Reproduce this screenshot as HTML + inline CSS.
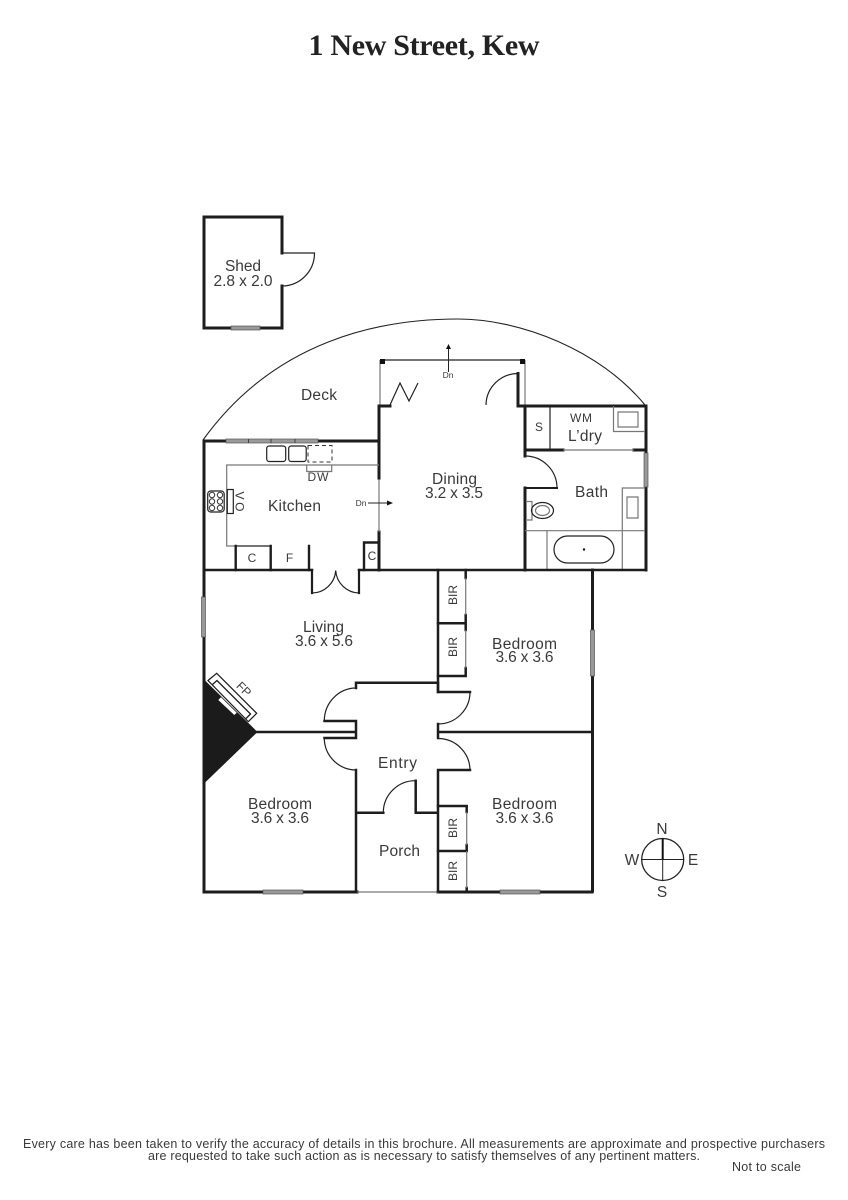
<!DOCTYPE html>
<html><head><meta charset="utf-8"><style>
html,body{margin:0;padding:0;background:#fff}
svg{display:block}
text{font-family:"Liberation Sans",sans-serif;fill:#3a3a3a;text-anchor:middle}
.w{stroke:#1d1d1d;stroke-width:3;fill:none;stroke-linecap:square}
.t{stroke:#222;stroke-width:1.2;fill:none}
.g{stroke:#777;stroke-width:1.2;fill:none}
.win{fill:#999;stroke:#555;stroke-width:.7}
.m{font-size:15.5px}
.s{font-size:12px}
.x{font-size:8.5px}
</style></head><body>
<svg width="848" height="1200" viewBox="0 0 848 1200" xmlns="http://www.w3.org/2000/svg">
<text x="424" y="55" textLength="231" style="font-family:'Liberation Serif',serif;font-weight:bold;font-size:30px;fill:#222">1 New Street, Kew</text>

<!-- Shed -->
<path class="w" d="M282 253V217H204V328H282V286"/>
<path class="t" d="M282 253H314.5A32.5 33 0 0 1 282 286"/>
<rect class="win" x="231" y="326" width="29" height="4"/>

<!-- Deck arc -->
<path d="M203 440C275 340 380 319 458 319C520 319 600 350 645 405" fill="none" stroke="#222" stroke-width="1.1"/>

<!-- Dining outline -->
<path class="t" d="M380 360H523"/>
<path class="g" d="M380 360V405M525 360V405"/>
<rect x="380" y="359" width="5" height="5" fill="#111"/>
<rect x="520" y="359" width="5" height="5" fill="#111"/>
<path class="w" d="M390 406H379V478M379 532V570"/>
<path class="g" d="M379 478V532"/>
<path class="t" d="M390 405L400 383L409 401L418 383"/>
<path class="w" d="M525 406H518V373.500"/>
<path class="t" d="M518 373.500A32 32 0 0 0 486 405"/>
<path d="M448.500 372V345" stroke="#222" stroke-width="1"/>
<path d="M448.500 344L446 349H451Z" fill="#111"/>
<text x="448" y="378" class="x">Dn</text>

<!-- Laundry / Bath -->
<path class="w" d="M525 456V406H646V570M525 488V570M525 450H563M634 450H646"/>
<path class="g" d="M563 450H634"/>
<path class="t" d="M550 406V450"/>
<path class="g" d="M613.500 406V431.500H645M618 412H638V427H618Z"/>
<path class="t" d="M525 456A32 32 0 0 1 557 488"/>
<path class="w" style="stroke-width:2" d="M525 488H557"/>
<rect class="win" x="644" y="453" width="4" height="34"/>
<path class="g" d="M527 501.500H532V520H527"/>
<ellipse cx="542.500" cy="510.500" rx="11" ry="8" class="t"/>
<ellipse cx="542.500" cy="510.500" rx="7" ry="5" class="g"/>
<path class="g" d="M525 530.700H645M547 531V570M622.300 570V488H645M627 497H638V518H627Z"/>
<rect x="554" y="536" width="60" height="27" rx="13.500" class="t"/>
<circle cx="584" cy="549.500" r="1.200" fill="#111"/>

<!-- Kitchen -->
<path class="w" d="M204 441H226M318 441H379V406"/>
<path class="w" d="M379 441V478"/>
<rect class="win" x="226" y="439" width="92" height="4"/>
<path d="M248.500 439V443M271 439V443M295 439V443" stroke="#444"/>
<path class="g" d="M379 465H226.700V546H236"/>
<path class="t" d="M236 546H271"/>
<rect x="266.700" y="446" width="19" height="15.500" rx="2.500" class="t"/>
<rect x="288.700" y="446" width="17.500" height="15.500" rx="2.500" class="t"/>
<rect x="308" y="445.500" width="24" height="16.500" fill="none" stroke="#333" stroke-width="1" stroke-dasharray="4 3"/>
<path class="g" d="M306.700 465V471.500H331.700V465"/>
<rect x="207.700" y="491" width="16.500" height="21" rx="3" class="t"/>
<g fill="none" stroke="#333" stroke-width="1">
<circle cx="212" cy="495" r="2.700"/><circle cx="220" cy="495" r="2.700"/>
<circle cx="212" cy="501.500" r="2.700"/><circle cx="220" cy="501.500" r="2.700"/>
<circle cx="212" cy="508" r="2.700"/><circle cx="220" cy="508" r="2.700"/>
</g>
<rect x="227.300" y="489.500" width="6" height="24" class="t" fill="#fff"/>
<text class="s" transform="translate(235.500 501.500) rotate(90)" textLength="20">VO</text>
<path class="w" style="stroke-width:2.400" d="M235.700 546V570M270.700 546V570M309 546V570M364 570V542.500H378"/>
<path d="M368 503H388" stroke="#222" stroke-width="1"/>
<path d="M393 503L387 500.500V505.500Z" fill="#111"/>
<text x="361" y="506" class="x">Dn</text>

<!-- French doors -->
<path class="w" style="stroke-width:2.200" d="M312 570V593M359 570V593"/>
<path class="t" d="M312 593A24 24 0 0 0 335.700 570.500A24 24 0 0 0 359 593"/>

<!-- Outer + main walls -->
<path class="w" d="M204 441V891"/>
<rect class="win" x="201.500" y="597" width="4" height="40"/>
<path class="w" style="stroke-width:2.500" d="M204 570H312M359 570H438M438 570H592M592 570H646"/>
<path class="w" d="M592.500 570V891"/>
<rect class="win" x="590.500" y="630" width="4" height="46"/>
<path class="w" d="M204 892H357M438 892H592"/>
<rect class="win" x="263" y="890" width="40" height="4"/>
<rect class="win" x="500" y="890" width="40" height="4"/>
<path class="g" d="M357 892H438"/>

<!-- Fireplace -->
<path d="M202.500 678L257.500 732L202.500 785Z" fill="#1b1b1b"/>
<path d="M208 680.500L216.700 673.300L256.700 713.300L248.300 721.700Z" fill="#fff" stroke="#1b1b1b" stroke-width="1.200"/>
<path d="M212.500 684.500L217 680.500L250.500 714L246 718.500" fill="none" stroke="#1b1b1b" stroke-width="1.300"/>
<path d="M218.300 700L221 697.300L236.700 712.700L234.300 715Z" fill="#fff"/>
<text class="s" transform="translate(241 692) rotate(45)">FP</text>

<!-- Entry -->
<path class="w" style="stroke-width:2.500" d="M257 732H356M356 688V682.700H438V692H470M438 724V738M438 770V891M356 721H324.500M356 721V738H324.500M356 770V891M438 732H592M438 770H470M356 812.700H383.300M415.700 780.700V812.700H438"/>
<path class="w" style="stroke-width:2.500" d="M438 570V692"/>
<path class="t" d="M356 688A32 33 0 0 0 324.300 720.700"/>
<path class="t" d="M324.300 738A32 32 0 0 0 356 770"/>
<path class="t" d="M470 692A32 32 0 0 1 438 724"/>
<path class="t" d="M438 738.500A32 32 0 0 1 470 771"/>
<path class="t" d="M383.300 812A32 32 0 0 1 415.700 780.700"/>

<!-- BIR upper -->
<path class="w" style="stroke-width:2.500" d="M465.700 570V578M465.700 615V630M438 623.300H465.700M465.700 668V676H438"/>
<path class="g" d="M465.700 578V615M465.700 630V668"/>
<!-- BIR lower -->
<path class="w" style="stroke-width:2.500" d="M438 806H466.700V812M466.700 845V851H438M466.700 888V892"/>
<path class="g" d="M466.700 812V845M466.700 851V888"/>

<!-- Compass -->
<circle cx="662.700" cy="859.500" r="21" fill="none" stroke="#222" stroke-width="1.300"/>
<path d="M641.700 859.500H683.700M662.700 859.500V880.500" stroke="#222" stroke-width="1"/>
<path d="M662.700 838.500V859.500" stroke="#111" stroke-width="2"/>
<text x="662" y="834" class="m">N</text>
<text x="632" y="865" class="m">W</text>
<text x="693" y="865" class="m">E</text>
<text x="662" y="897" class="m">S</text>

<!-- Labels -->
<g class="m">
<text x="243" y="271" textLength="36">Shed</text>
<text x="243" y="286" textLength="59">2.8 x 2.0</text>
<text x="319" y="400" textLength="36">Deck</text>
<text x="454.500" y="484" textLength="45">Dining</text>
<text x="454" y="498" textLength="58">3.2 x 3.5</text>
<text x="294.500" y="511" textLength="53">Kitchen</text>
<text x="585" y="441" textLength="34">L’dry</text>
<text x="591.500" y="497" textLength="33">Bath</text>
<text x="323.500" y="632" textLength="41">Living</text>
<text x="324" y="646" textLength="58">3.6 x 5.6</text>
<text x="524.500" y="649" textLength="65">Bedroom</text>
<text x="524.500" y="662" textLength="58">3.6 x 3.6</text>
<text x="280" y="809" textLength="64">Bedroom</text>
<text x="280" y="823" textLength="58">3.6 x 3.6</text>
<text x="524.500" y="809" textLength="65">Bedroom</text>
<text x="524.500" y="823" textLength="58">3.6 x 3.6</text>
<text x="397.500" y="768" textLength="39">Entry</text>
<text x="399.500" y="856" textLength="41">Porch</text>
</g>
<g class="s">
<text x="318" y="481" textLength="21">DW</text>
<text x="581" y="422" textLength="22">WM</text>
<text x="539" y="431">S</text>
<text x="252" y="562">C</text>
<text x="289.500" y="562">F</text>
<text x="372" y="560">C</text>
<text transform="translate(457 595) rotate(-90)">BIR</text>
<text transform="translate(457 647) rotate(-90)">BIR</text>
<text transform="translate(457 828) rotate(-90)">BIR</text>
<text transform="translate(457 871) rotate(-90)">BIR</text>
</g>

<!-- Footer -->
<text x="424" y="1148" textLength="802" style="font-size:12.500px">Every care has been taken to verify the accuracy of details in this brochure.  All measurements are approximate and prospective purchasers</text>
<text x="424" y="1160" textLength="552" style="font-size:12.500px">are requested to take such action as is necessary to satisfy themselves of any pertinent matters.</text>
<text x="766.500" y="1171" textLength="69" style="font-size:12.500px">Not to scale</text>
</svg>
</body></html>
